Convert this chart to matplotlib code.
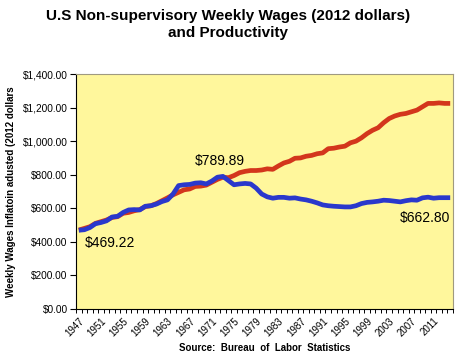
import matplotlib.pyplot as plt
import numpy as np
from matplotlib.ticker import FuncFormatter, MultipleLocator

plt.rcParams['font.family'] = ['Liberation Sans', 'DejaVu Sans']

years = np.arange(1947, 2015)

wages = [469, 472, 485, 508, 515, 525, 548, 552, 575, 590,
         592, 590, 612, 615, 625, 640, 650, 685, 735, 740,
         742, 750, 752, 745, 762, 785, 790, 765, 740, 745,
         748, 745, 720, 685, 668, 660, 665, 665, 660, 662,
         655, 650, 642, 632, 620, 615, 612, 610, 608, 608,
         615, 628, 635, 638, 642, 648, 646, 642, 638, 645,
         650, 648, 662, 666, 660, 663, 663, 663]

productivity = [470, 480, 490, 510, 520, 530, 545, 550, 570, 575,
                585, 592, 610, 615, 628, 645, 662, 680, 695, 710,
                715, 730, 732, 738, 755, 772, 785, 782, 795, 812,
                820, 825, 825, 828, 835, 832, 852, 870, 880, 898,
                900, 910, 915, 925, 930, 955, 958, 965, 970, 990,
                1000, 1020, 1045, 1065, 1080, 1110, 1135, 1150, 1160, 1165,
                1175, 1185, 1205, 1225, 1225, 1228, 1225, 1225]

label_years = np.arange(1947, 2012, 4)

fig = plt.figure(figsize=(4.58, 3.63), dpi=100)
ax = fig.add_axes([0.166, 0.149, 0.823, 0.647])
ax.set_facecolor('#FFF79C')

ax.plot(years, productivity, color='#D3361C', linewidth=3.4, solid_capstyle='butt')
ax.plot(years, wages, color='#2A38CC', linewidth=3.4, solid_capstyle='butt')

ax.set_xlim(1946.5, 2014.5)
ax.set_ylim(0, 1400)
ax.yaxis.set_major_locator(MultipleLocator(200))
ax.yaxis.set_major_formatter(FuncFormatter(lambda v, p: '${:,.2f}'.format(v)))
ax.tick_params(axis='y', labelsize=7.3, length=4, width=0.8, pad=2)

ax.set_xticks(label_years)
ax.set_xticklabels([str(y) for y in label_years], rotation=45, ha='right',
                   rotation_mode='anchor', fontsize=7)
ax.set_xticks(np.arange(1946.5, 2015, 1), minor=True)
ax.tick_params(axis='x', which='major', length=0, pad=5)
ax.tick_params(axis='x', which='minor', length=3, width=0.7)

for s in ['top', 'right']:
    ax.spines[s].set_color('#A09A80')
    ax.spines[s].set_linewidth(0.8)
for s in ['left', 'bottom']:
    ax.spines[s].set_color('black')
    ax.spines[s].set_linewidth(0.8)

ax.text(1948, 395, '$469.22', fontsize=10, va='center', ha='left')
ax.text(1968, 882, '$789.89', fontsize=10, va='center', ha='left')
ax.text(2005, 542, '$662.80', fontsize=10, va='center', ha='left')

fig.text(0.497, 0.975, 'U.S Non-supervisory Weekly Wages (2012 dollars)\nand Productivity',
         ha='center', va='top', fontsize=11, fontweight='bold', linespacing=1.25)
ax.set_ylabel('Weekly Wages Inflatoin adusted (2012 dollars', fontsize=7,
              fontweight='bold', labelpad=5)
fig.text(0.578, 0.04, 'Source:  Bureau  of  Labor  Statistics', ha='center',
         va='center', fontsize=7, fontweight='bold')

fig.savefig('out.png', dpi=100)
